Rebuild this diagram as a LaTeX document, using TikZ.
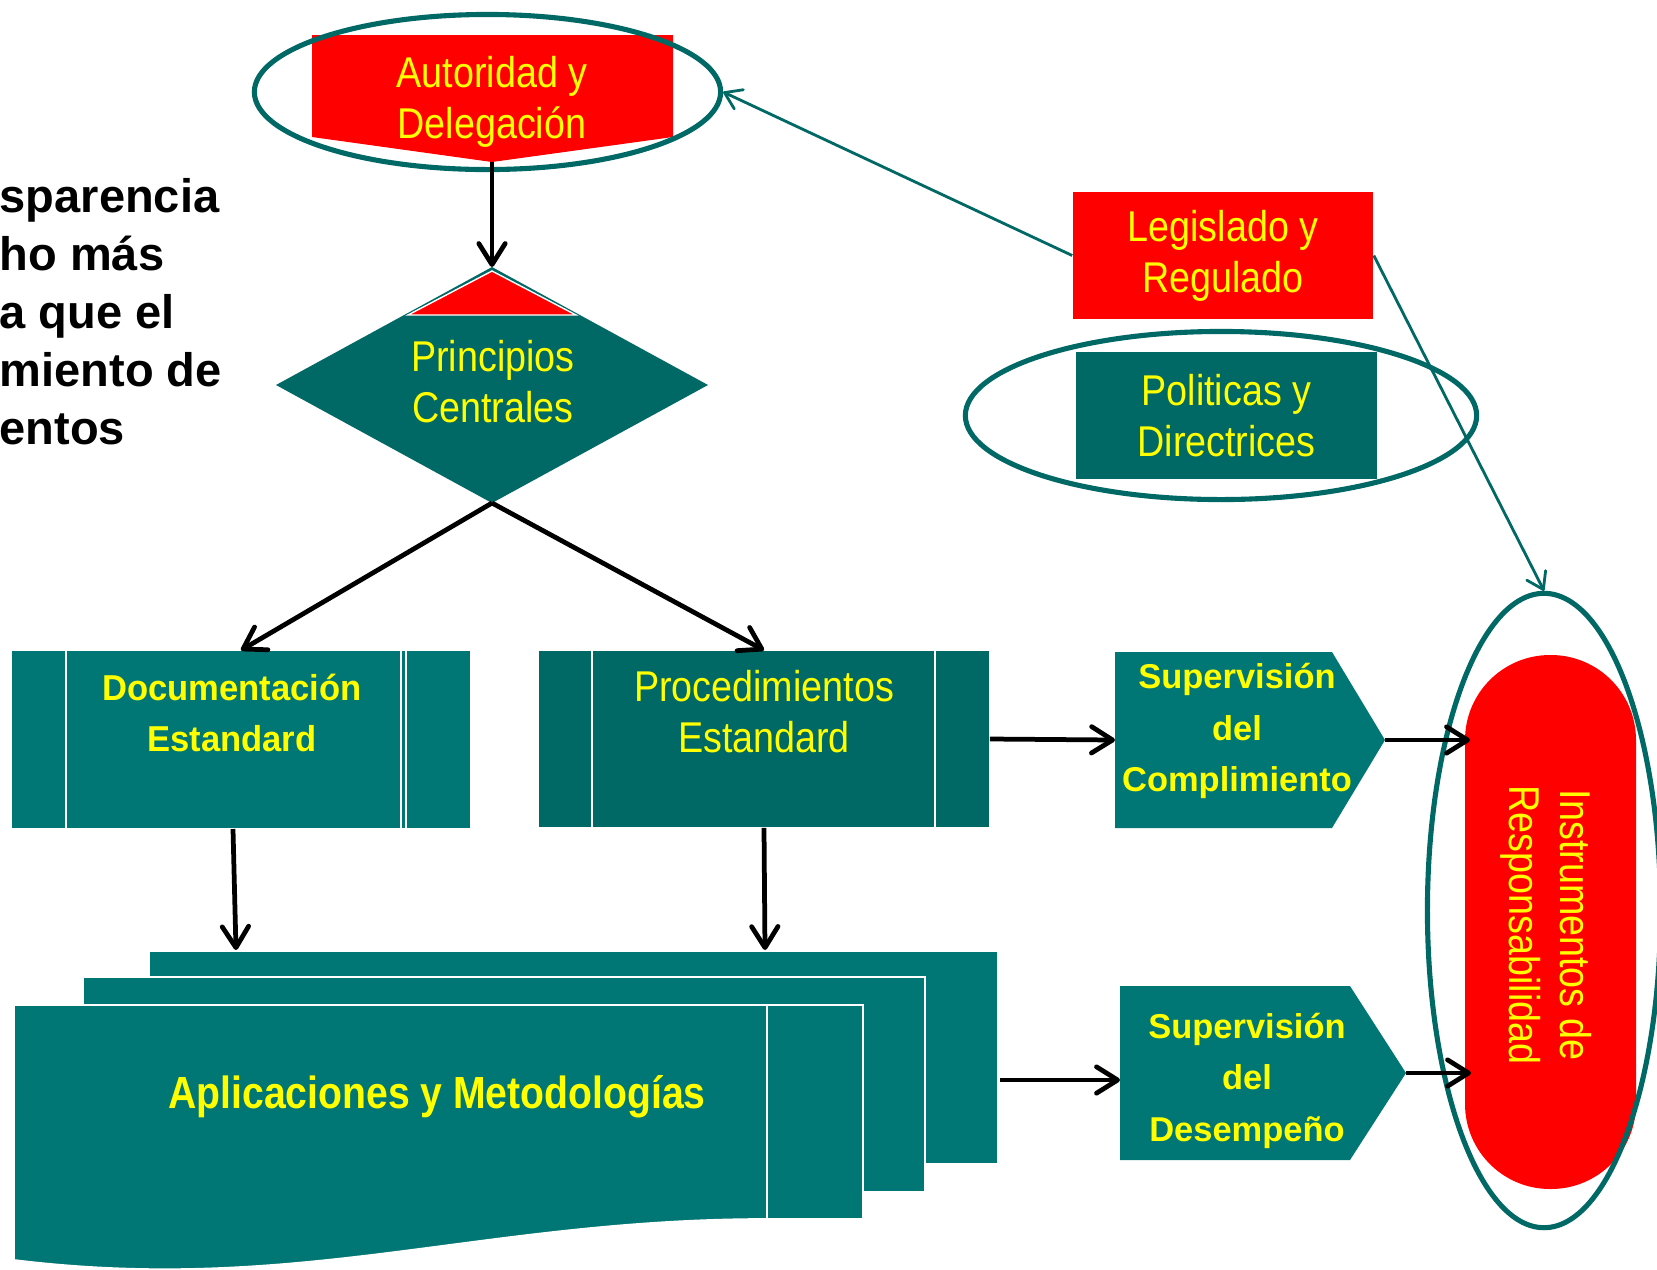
\documentclass[tikz,border=0pt]{standalone}
\usepackage{fontspec}
\setmainfont{Liberation Sans}
\newfontfamily\narrowfont[FakeStretch=0.875]{Liberation Sans}
\newfontfamily\docfont[FakeStretch=0.96]{Liberation Sans}
\newfontfamily\appfont[FakeStretch=0.87]{Liberation Sans}
\usepackage{tikz}
\usetikzlibrary{calc,arrows.meta,shapes.geometric}
\definecolor{boxteal}{HTML}{007775}
\definecolor{darkteal}{HTML}{006865}
\definecolor{redbox}{HTML}{FF0000}
\definecolor{yel}{HTML}{FFFF00}
\tikzset{
  flow/.style={draw=black, line width=1.35pt, -{Straight Barb[length=6pt,width=7.5pt,round]}},
  link/.style={draw=darkteal, line width=0.8pt, -{Straight Barb[length=4.5pt,width=6pt,round]}},
  ring/.style={ellipse, draw=darkteal, line width=1.45pt, inner sep=0pt},
  lbl/.style={text=yel, align=center, inner sep=0pt, font=\narrowfont\fontsize{12.25}{14.5}\selectfont},
  blbl/.style={text=yel, align=center, inner sep=0pt, font=\bfseries\fontsize{9.8}{14.65}\selectfont},
  dlbl/.style={text=yel, align=center, inner sep=0pt, font=\docfont\bfseries\fontsize{10.24}{14.5}\selectfont},
  sheet/.style={fill=boxteal, draw=white, line width=0.5pt},
  bar/.style={draw=white, line width=0.45pt}
}

\begin{document}
\begin{tikzpicture}[x=0.01cm, y=-0.01cm]
  \useasboundingbox (0,0) rectangle (1657,1269);
  \fill[white] (0,0) rectangle (1657,1269);
  \clip (0,0) rectangle (1657,1269);

  % cut-off text on the left
  \node[anchor=west, align=left, inner sep=0pt, font=\bfseries\fontsize{13.37}{16.5}\selectfont] (intro) at (-1,312)
    {sparencia\\ho más\\a que el\\miento de\\entos};

  % Autoridad y Delegacion
  \fill[redbox] (312,35) -- (673,35) -- (673,137) -- (492,162) -- (312,137) -- cycle;
  \node[lbl] (aut) at (492,101.5) {Autoridad y\\Delegación};
  \coordinate (aut-tip) at (492,162);
  \node[ring, minimum width=4.66cm, minimum height=1.55cm] (autring) at (487.5,92) {};

  % Principios Centrales
  \fill[darkteal] (492,267) -- (708,385) -- (492,503) -- (276,385) -- cycle;
  \filldraw[fill=redbox, draw=white, line width=0.4pt] (492,271) -- (576,315) -- (408,315) -- cycle;
  \node[lbl] (prin) at (493,382) {Principios\\Centrales};
  \coordinate (prin-top) at (492,267);
  \coordinate (prin-bot) at (492,503);

  % Documentacion / Procedimientos
  \node[fill=boxteal, minimum width=4.58cm, minimum height=1.77cm, inner sep=0pt] (doc) at (241,739.5) {};
  \draw[bar] (66,651) -- (66,828);
  \draw[bar] (401,651) -- (401,828);
  \draw[bar] (406,651) -- (406,828);
  \node[dlbl] (doctext) at (232,712.5) {Documentación\\Estandard};

  \node[fill=darkteal, minimum width=4.50cm, minimum height=1.76cm, inner sep=0pt] (proc) at (764,739) {};
  \draw[bar] (592,651) -- (592,827);
  \draw[bar] (935,651) -- (935,827);
  \node[lbl] (proctext) at (764,712) {Procedimientos\\Estandard};

  % Aplicaciones y Metodologias (stack)
  \filldraw[sheet] (149,951) rectangle (998,1164);
  \filldraw[sheet] (83,977) rectangle (925,1192);
  \filldraw[sheet] (14,1005) -- (863,1005) -- (863,1219) -- (767,1219)
    .. controls (480,1219) and (300,1295) .. (14,1260) -- cycle;
  \draw[bar] (767,1005) -- (767,1219);
  \node[text=yel, inner sep=0pt, font=\appfont\bfseries\fontsize{12.8}{15}\selectfont] (apps) at (437,1097) {Aplicaciones y Metodologías};
  \coordinate (doc-out) at (233,829);
  \coordinate (stack-in1) at (236,950);
  \coordinate (stack-in2) at (765,950);
  \coordinate (stack-out) at (1000,1080);

  % Supervision boxes
  \fill[boxteal] (1115,652) -- (1332,652) -- (1385,740) -- (1332,828) -- (1115,828) -- cycle;
  \node[blbl] (supc) at (1237,731) {Supervisión\\del\\Complimiento};
  \coordinate (supc-in) at (1115,740);
  \coordinate (supc-tip) at (1385,740);

  \fill[boxteal] (1120,986) -- (1350,986) -- (1406,1073) -- (1350,1160) -- (1120,1160) -- cycle;
  \node[blbl] (supd) at (1247,1080.5) {Supervisión\\del\\Desempeño};
  \coordinate (supd-in) at (1120,1080);
  \coordinate (supd-tip) at (1406,1073);

  % Instrumentos de Responsabilidad
  \fill[redbox, rounded corners=0.85cm] (1465,655) rectangle (1636,1189);
  \node[ring, minimum width=2.33cm, minimum height=6.34cm] (insring) at (1544,910.5) {};
  \node[lbl, rotate=-90] (instr) at (1546,925) {Instrumentos de\\Responsabilidad};
  \coordinate (ins-in1) at (1470,740);
  \coordinate (ins-in2) at (1471,1073);

  % Legislado y Regulado / Politicas y Directrices
  \node[lbl, fill=redbox, minimum width=3.00cm, minimum height=1.27cm] (leg) at (1223,255.5) {Legislado y\\Regulado};
  \node[lbl, fill=darkteal, minimum width=3.01cm, minimum height=1.27cm] (pol) at (1226.5,415.5) {Politicas y\\Directrices};
  \node[ring, minimum width=5.11cm, minimum height=1.68cm] (polring) at (1221,415.5) {};

  % connectors
  \draw[flow] (aut-tip) -- (prin-top);
  \draw[flow] (prin-bot) -- (doc.north);
  \draw[flow] (prin-bot) -- (proc.north);
  \draw[flow] (doc-out) -- (stack-in1);
  \draw[flow] (proc.south) -- (stack-in2);
  \draw[flow] (proc.east) -- (supc-in);
  \draw[flow] (stack-out) -- (supd-in);
  \draw[flow] (supc-tip) -- (ins-in1);
  \draw[flow] (supd-tip) -- (ins-in2);
  \draw[link] (leg.west) -- (autring.east);
  \draw[link] (leg.east) -- (insring.north);
\end{tikzpicture}
\end{document}
